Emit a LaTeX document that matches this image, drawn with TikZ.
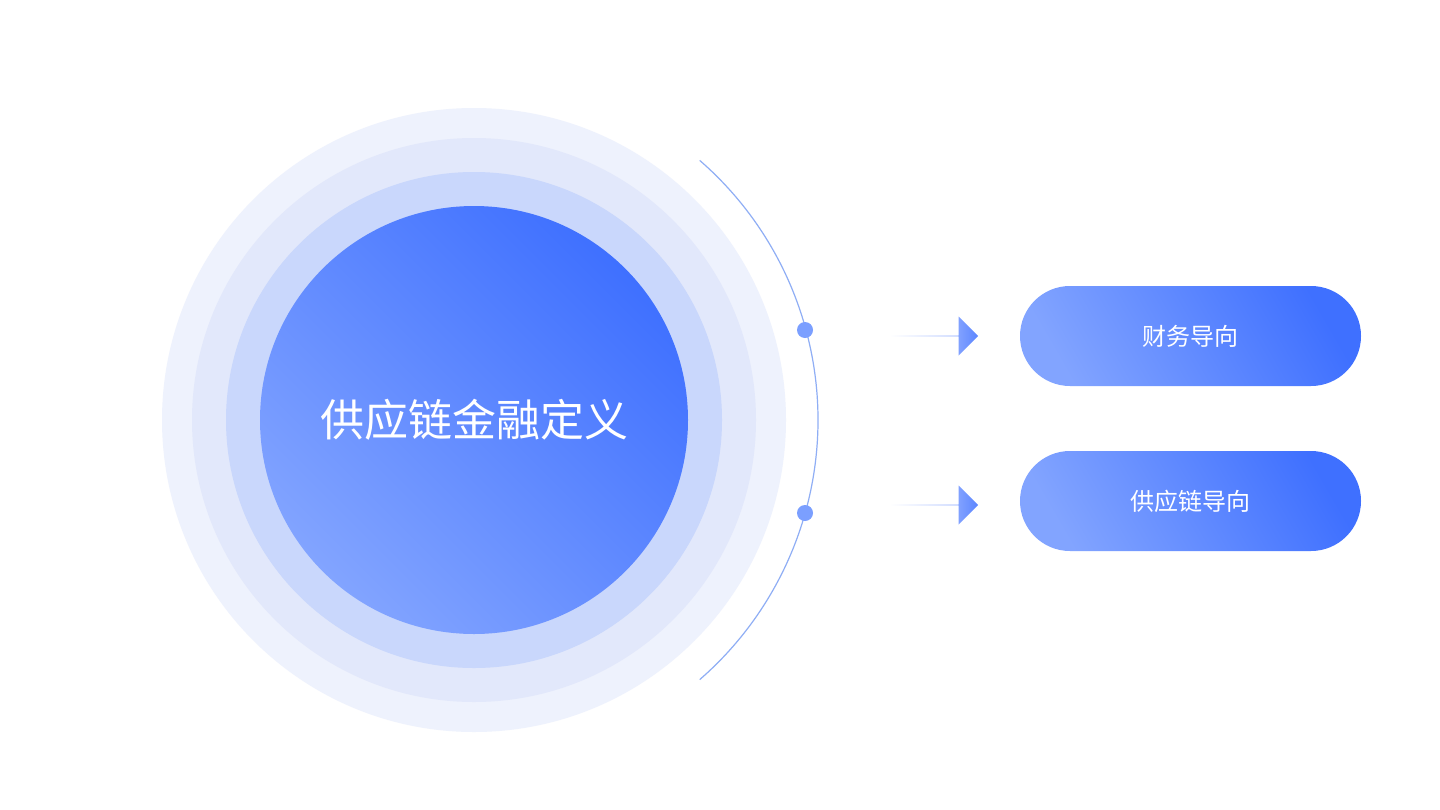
\documentclass[tikz,border=0pt]{standalone}
\usepackage{fontspec}
\newfontfamily\cjk{Noto Sans CJK SC}
\usetikzlibrary{shapes.arrows}
\definecolor{ring1}{HTML}{EEF2FD}
\definecolor{ring2}{HTML}{E2E8FB}
\definecolor{ring3}{HTML}{C9D7FC}
\definecolor{blueA}{HTML}{82A4FF}
\definecolor{blueB}{HTML}{3F70FF}
\definecolor{arcc}{HTML}{8FAEF5}
\tikzset{
 ring/.style={circle,inner sep=0pt,draw=none},
 pill/.style={rounded corners=25pt,minimum width=170.5pt,minimum height=50pt,
   left color=blueA,right color=blueB,shading angle=120,text=white,font=\cjk\fontsize{12}{14}\selectfont},
 arr/.style={single arrow,single arrow tip angle=90,single arrow head extend=9.5pt,
   minimum height=44pt,minimum width=19.5pt,inner sep=0pt,draw=none,
   left color=white,right color=blueB!85},
 dot/.style={circle,fill=blueA!90!blueB,inner sep=0pt,minimum size=8pt}
}
\begin{document}
\begin{tikzpicture}[x=0.5pt,y=-0.5pt]
\useasboundingbox[fill=white] (0,0) rectangle (1440,809);
\coordinate (c) at (474,420);
\node[ring,fill=ring1,minimum size=312pt] (r1) at (c) {};
\node[ring,fill=ring2,minimum size=282pt] (r2) at (c) {};
\node[ring,fill=ring3,minimum size=248pt] (r3) at (c) {};
\node[ring,minimum size=214pt,left color=blueA,right color=blueB,shading angle=135,
  text=white,font=\cjk\fontsize{22}{26}\selectfont] (main) at (c) {供应链金融定义};
\draw[arcc,line width=0.6pt] (c) ++(-49:344) arc[start angle=-49,end angle=49,radius=344];
\node[dot] (d1) at (805,330) {};
\node[dot] (d2) at (805,513) {};
\node[arr] (a1) at (934,336) {};
\node[arr] (a2) at (934,505) {};
\node[pill] (p1) at (1190.5,336) {财务导向};
\node[pill] (p2) at (1190.5,501) {供应链导向};
\end{tikzpicture}
\end{document}
